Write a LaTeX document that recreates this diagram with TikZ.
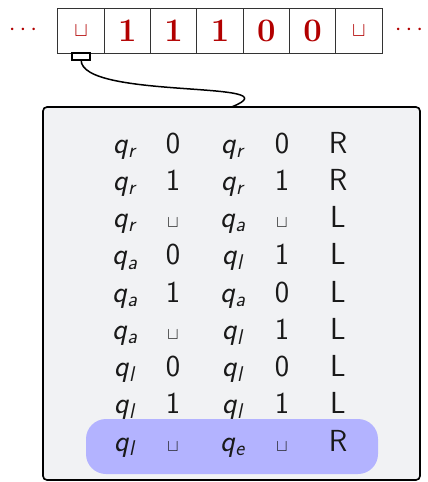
\documentclass[tikz,border=0pt]{standalone}
\usepackage{amsmath}
\usepackage{amssymb}
\usetikzlibrary{positioning}
\definecolor{tapered}{RGB}{178,0,0}
\definecolor{boxgray}{RGB}{241,242,244}
\definecolor{rowblue}{RGB}{179,179,255}
\newcommand{\qst}[1]{\textit{q}\textsubscript{\textit{#1}}}
\newcommand{\tblank}{$\sqcup$}
\newcommand{\sblank}{{\fontsize{15}{18}\selectfont\tblank}}
\tikzset{%
  cell/.style={draw=black!80,line width=0.3mm,minimum width=13.9mm,minimum height=13.5mm,inner sep=0,outer sep=0,text=tapered,font=\fontsize{28}{32}\selectfont\bfseries},
  head/.style={draw,line width=0.45mm,minimum width=5.4mm,minimum height=2.1mm,inner sep=0,outer sep=0},
  prog/.style={draw,line width=0.5mm,fill=boxgray,rounded corners=1.2mm,inner sep=0,outer sep=0},
  entry/.style={anchor=base,inner sep=0,text=black!90,font=\fontsize{26}{30}\selectfont\sffamily},
  tdots/.style={text=tapered,font=\fontsize{22}{26}\selectfont}
}

\begin{document}
\begin{tikzpicture}[x=0.3mm,y=-0.3mm]
    \useasboundingbox (0,0) rectangle (427,482);
    % tape
    \path
      (81.1,30.5) node[cell] (t0) {\fontsize{17}{20}\selectfont\tblank}
      (127.4,30.5) node[cell] (t1) {1} (173.7,30.5) node[cell] (t2) {1}
      (220,30.5) node[cell] (t3) {1} (266.3,30.5) node[cell] (t4) {0}
      (312.6,30.5) node[cell] (t5) {0}
      (358.9,30.5) node[cell] (t6) {\fontsize{17}{20}\selectfont\tblank};
    \node[tdots] (ldots) at (25,30) {$\cdots$};
    \node[tdots] (rdots) at (411,30) {$\cdots$};
    \node[head,below=0pt of t0.south] (head) {};
    % program
    \node[prog,minimum width=113.1mm,minimum height=111.9mm] (box) at (231.5,293.5) {};
    \draw[line width=0.45mm] (head.south) .. controls +(0,40) and +(68,-27) .. (box.north);
    \fill[rowblue,rounded corners=6mm] (86,419) rectangle (378,474);
    \foreach \a/\b/\c/\d/\e [count=\r] in {r/0/r/0/R, r/1/r/1/R, r/\sblank/a/\sblank/L,
        a/0/l/1/L, a/1/a/0/L, a/\sblank/l/1/L, l/0/l/0/L, l/1/l/1/L, l/\sblank/e/\sblank/R} {
      \path
        (125,{153+37.25*(\r-1)}) node[entry] (m\r-1) {\qst{\a}}
        (173,{153+37.25*(\r-1)}) node[entry] (m\r-2) {\b}
        (233,{153+37.25*(\r-1)}) node[entry] (m\r-3) {\qst{\c}}
        (282,{153+37.25*(\r-1)}) node[entry] (m\r-4) {\d}
        (338,{153+37.25*(\r-1)}) node[entry] (m\r-5) {\e};
    }
  \end{tikzpicture}
\end{document}
